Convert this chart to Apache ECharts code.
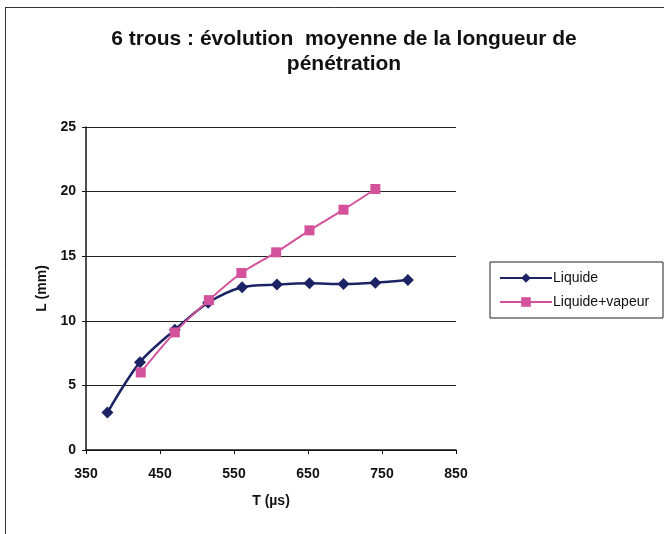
<!DOCTYPE html>
<html lang="fr">
<head>
	<meta charset="UTF-8">
	<title>Longueur de pénétration</title>
	<script src="https://cdn.jsdelivr.net/npm/echarts@6/dist/echarts.min.js"></script>
	<style>
		html, body { margin: 0; padding: 0; background: #fff; }
	</style>
</head>
<body>
	<div id="chart" style="width:664px; height:534px;"></div>
	<script>
	// valeurs
	var tLiquide = [379, 423, 470, 515, 561, 608, 652, 698, 741, 785];
	var lLiquide = [2.9, 6.8, 9.3, 11.4, 12.6, 12.8, 12.9, 12.85, 12.95, 13.15];
	var tVapeur = [424, 470, 516, 560, 607, 652, 698, 741];
	var lVapeur = [6.0, 9.1, 11.6, 13.7, 15.3, 17.0, 18.6, 20.2];

	function pairs(xs, ys) {
		var res = [];
		for (var i = 0; i < xs.length; i++) res.push([xs[i], ys[i]]);
		return res;
	}

	var myChart = echarts.init(document.getElementById("chart"));
	var font = 'Liberation Sans, Arial, sans-serif';
	option = {
		animation: false,
		title: {
			text: '6 trous : évolution  moyenne de la longueur de\npénétration',
			left: 339,
			textAlign: 'center',
			top: 22,
			textStyle: { fontFamily: font, fontSize: 21, fontWeight: 'bold', color: '#111', lineHeight: 25 }
		},
		graphic: [
			{ type: 'line', shape: { x1: 5, y1: 7.5, x2: 664, y2: 7.5 }, style: { stroke: '#333', lineWidth: 1 } },
			{ type: 'line', shape: { x1: 5.5, y1: 7, x2: 5.5, y2: 534 }, style: { stroke: '#333', lineWidth: 1 } },
			{ type: 'rect', shape: { x: 490, y: 262, width: 173, height: 56 }, style: { fill: 'none', stroke: '#222', lineWidth: 1 } }
		],
		legend: {
			orient: 'vertical',
			left: 494,
			top: 266,
			itemGap: 10,
			itemWidth: 52,
			itemHeight: 12,
			textStyle: { fontFamily: font, fontSize: 14, color: '#111', padding: [0, 0, 0, -4] },
			data: ['Liquide', 'Liquide+vapeur']
		},
		grid: { left: 86, right: 208, top: 127, bottom: 84 },
		xAxis: {
			type: 'value',
			min: 350, max: 850, interval: 100,
			name: 'T (µs)',
			nameLocation: 'middle',
			nameGap: 44,
			nameTextStyle: { fontFamily: font, fontSize: 14, fontWeight: 'bold', color: '#111' },
			axisLine: { lineStyle: { color: '#111', width: 1.5 } },
			axisTick: { show: true, inside: false, length: 4, lineStyle: { color: '#111' } },
			axisLabel: { fontFamily: font, fontSize: 14, fontWeight: 'bold', color: '#111', margin: 17 },
			splitLine: { show: false }
		},
		yAxis: {
			type: 'value',
			min: 0, max: 25, interval: 5,
			name: 'L (mm)',
			nameLocation: 'middle',
			nameGap: 30,
			nameTextStyle: { fontFamily: font, fontSize: 14, fontWeight: 'bold', color: '#111' },
			axisLine: { show: true, lineStyle: { color: '#111', width: 1.5 } },
			axisTick: { show: true, length: 4, lineStyle: { color: '#111' } },
			axisLabel: { fontFamily: font, fontSize: 14, fontWeight: 'bold', color: '#111', margin: 10 },
			splitLine: { show: true, lineStyle: { color: '#222', width: 1 } }
		},
		series: [
			{
				name: 'Liquide',
				type: 'line',
				smooth: 0.3,
				data: pairs(tLiquide, lLiquide),
				symbol: 'diamond',
				symbolSize: 12,
				z: 3,
				itemStyle: { color: '#1d2465' },
				lineStyle: { color: '#1d2465', width: 2.5 }
			},
			{
				name: 'Liquide+vapeur',
				type: 'line',
				smooth: 0.3,
				data: pairs(tVapeur, lVapeur),
				symbol: 'rect',
				symbolSize: 10,
				z: 4,
				itemStyle: { color: '#d4529c' },
				lineStyle: { color: '#d4529c', width: 2 }
			}
		]
	};
	myChart.setOption(option);
	</script>
</body>
</html>
